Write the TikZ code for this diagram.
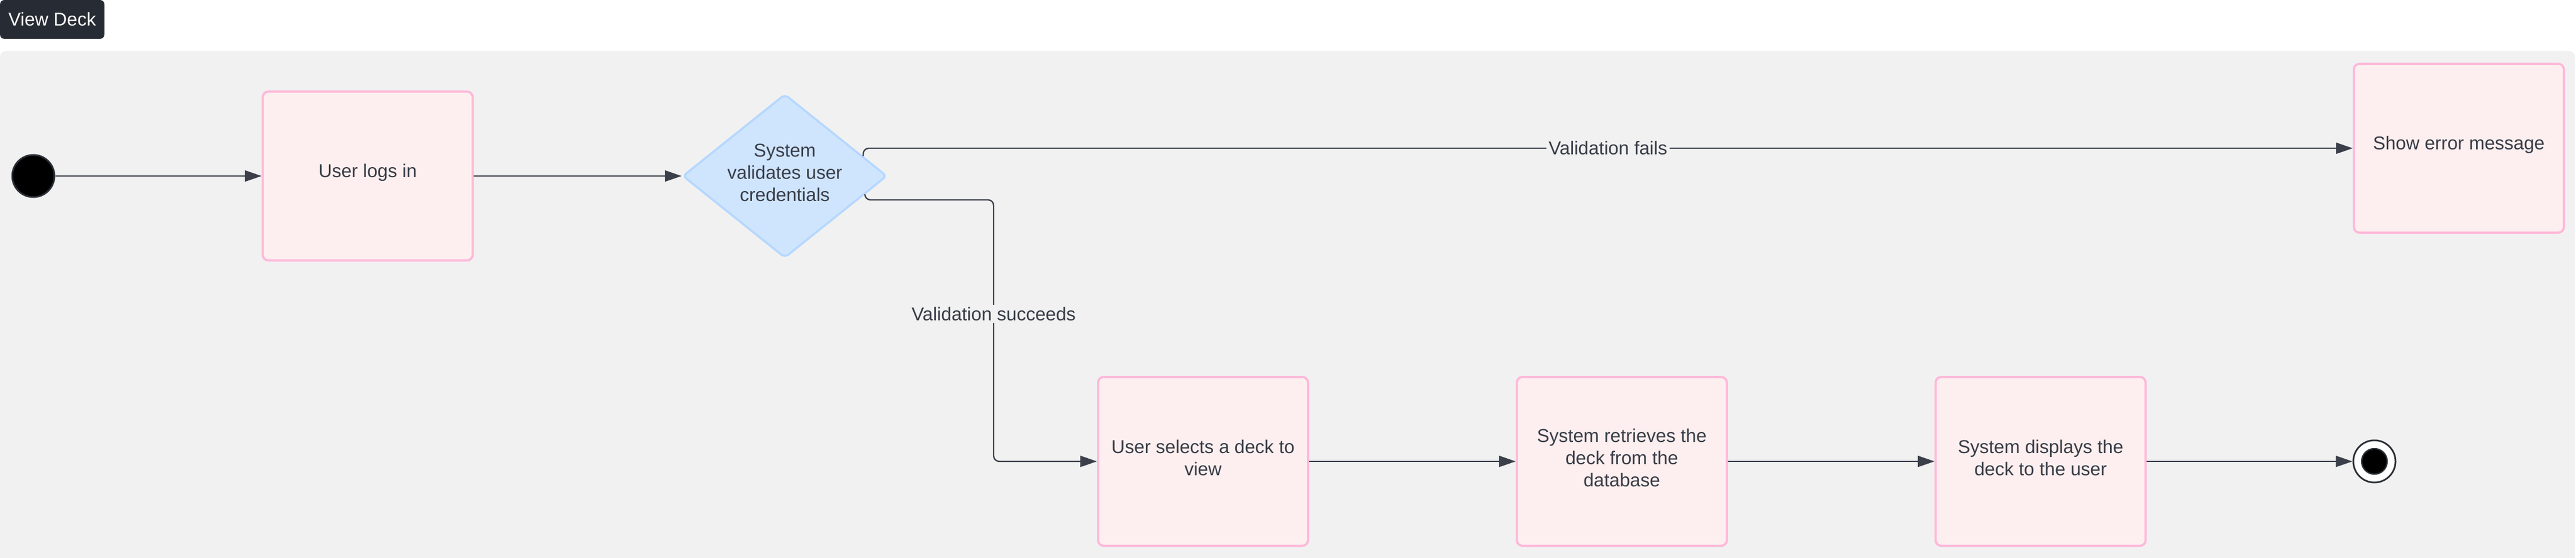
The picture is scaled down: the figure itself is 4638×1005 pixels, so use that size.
\documentclass[tikz,border=0pt]{standalone}
\usepackage{fontspec}
\setmainfont{Liberation Sans}
\usetikzlibrary{arrows.meta,shapes.geometric,calc}
\definecolor{tabbg}{HTML}{272B33}
\definecolor{panelbg}{HTML}{F1F1F1}
\definecolor{boxfill}{HTML}{FDEFEF}
\definecolor{boxline}{HTML}{FFB8D9}
\definecolor{decfill}{HTML}{CFE4FD}
\definecolor{decline}{HTML}{B5D7FF}
\definecolor{txt}{HTML}{383D47}
\definecolor{wire}{HTML}{3A3F4A}
\definecolor{ring}{HTML}{2B2F36}
\begin{document}
\begin{tikzpicture}[x=0.25pt,y=-0.25pt,
  every node/.style={font=\fontsize{8.375pt}{10pt}\selectfont, text=txt},
  intext/.style={align=center, inner sep=0pt, yshift=1.6pt},
  actbox/.style={draw=boxline, fill=boxfill, line width=1pt, rounded corners=2.5pt,
    minimum width=94.5pt, minimum height=76pt, inner sep=0pt},
  decbox/.style={diamond, aspect=1.25, draw=decline, fill=decfill, line width=0.9pt,
    rounded corners=2pt, minimum width=92pt, minimum height=73.75pt, inner sep=0pt},
  conn/.style={draw=wire, line width=0.6pt, rounded corners=2.5pt,
    -{Triangle[length=7.5pt,width=5pt]}},
  lbl/.style={fill=panelbg, inner sep=1pt},
  tabbox/.style={fill=tabbg, rounded corners=2pt, minimum width=47pt, minimum height=17.5pt,
    inner sep=0pt, text=white},
  startdot/.style={circle, fill=black, draw=ring, line width=0.75pt, minimum size=19pt, inner sep=0pt},
  endring/.style={circle, fill=white, draw=ring, line width=0.75pt, minimum size=19pt, inner sep=0pt},
  enddot/.style={circle, fill=black, draw=ring, line width=0.6pt, minimum size=11.5pt, inner sep=0pt},
]
\useasboundingbox (0,0) rectangle (4638,1005);
% panel
\fill[panelbg] (0,1005) {[rounded corners=2.5pt] -- (0,92) -- (4636,92)} -- (4636,1005) -- cycle;
% title tab
\node[tabbox] (tab) at (94,35) {View Deck};
% nodes
\node[startdot] (start) at (60,317) {};
\node[actbox, label={[intext]center:User logs in}] (login) at (662,317) {};
\node[decbox, label={[intext]center:{System\\validates user\\credentials}}] (dec) at (1413,317) {};
\node[actbox, label={[intext]center:Show error message}] (err) at (4427,267) {};
\node[actbox, label={[intext]center:{User selects a deck to\\view}}] (sel) at (2166,831) {};
\node[actbox, label={[intext]center:{System retrieves the\\deck from the\\database}}] (ret) at (2920,831) {};
\node[actbox, label={[intext]center:{System displays the\\deck to the user}}] (disp) at (3674,831) {};
\node[endring] (endc) at (4275,831) {};
\node[enddot] (enddot) at (endc) {};
% waypoints
\coordinate (p1) at ($(dec.east)!0.24!(dec.north)$);
\coordinate (p2) at ($(dec.east)!0.224!(dec.south)$);
\coordinate (b1) at (1789,360);
% connectors
\draw[conn] (start) -- (login);
\draw[conn] (login) -- (dec);
\draw[conn] (p1) |- node[lbl, pos=0.75] {Validation fails} (err.west);
\draw[conn] (p2) |- (b1) |- node[lbl, pos=0.218] {Validation succeeds} (sel.west);
\draw[conn] (sel) -- (ret);
\draw[conn] (ret) -- (disp);
\draw[conn] (disp) -- (endc);
\end{tikzpicture}
\end{document}
